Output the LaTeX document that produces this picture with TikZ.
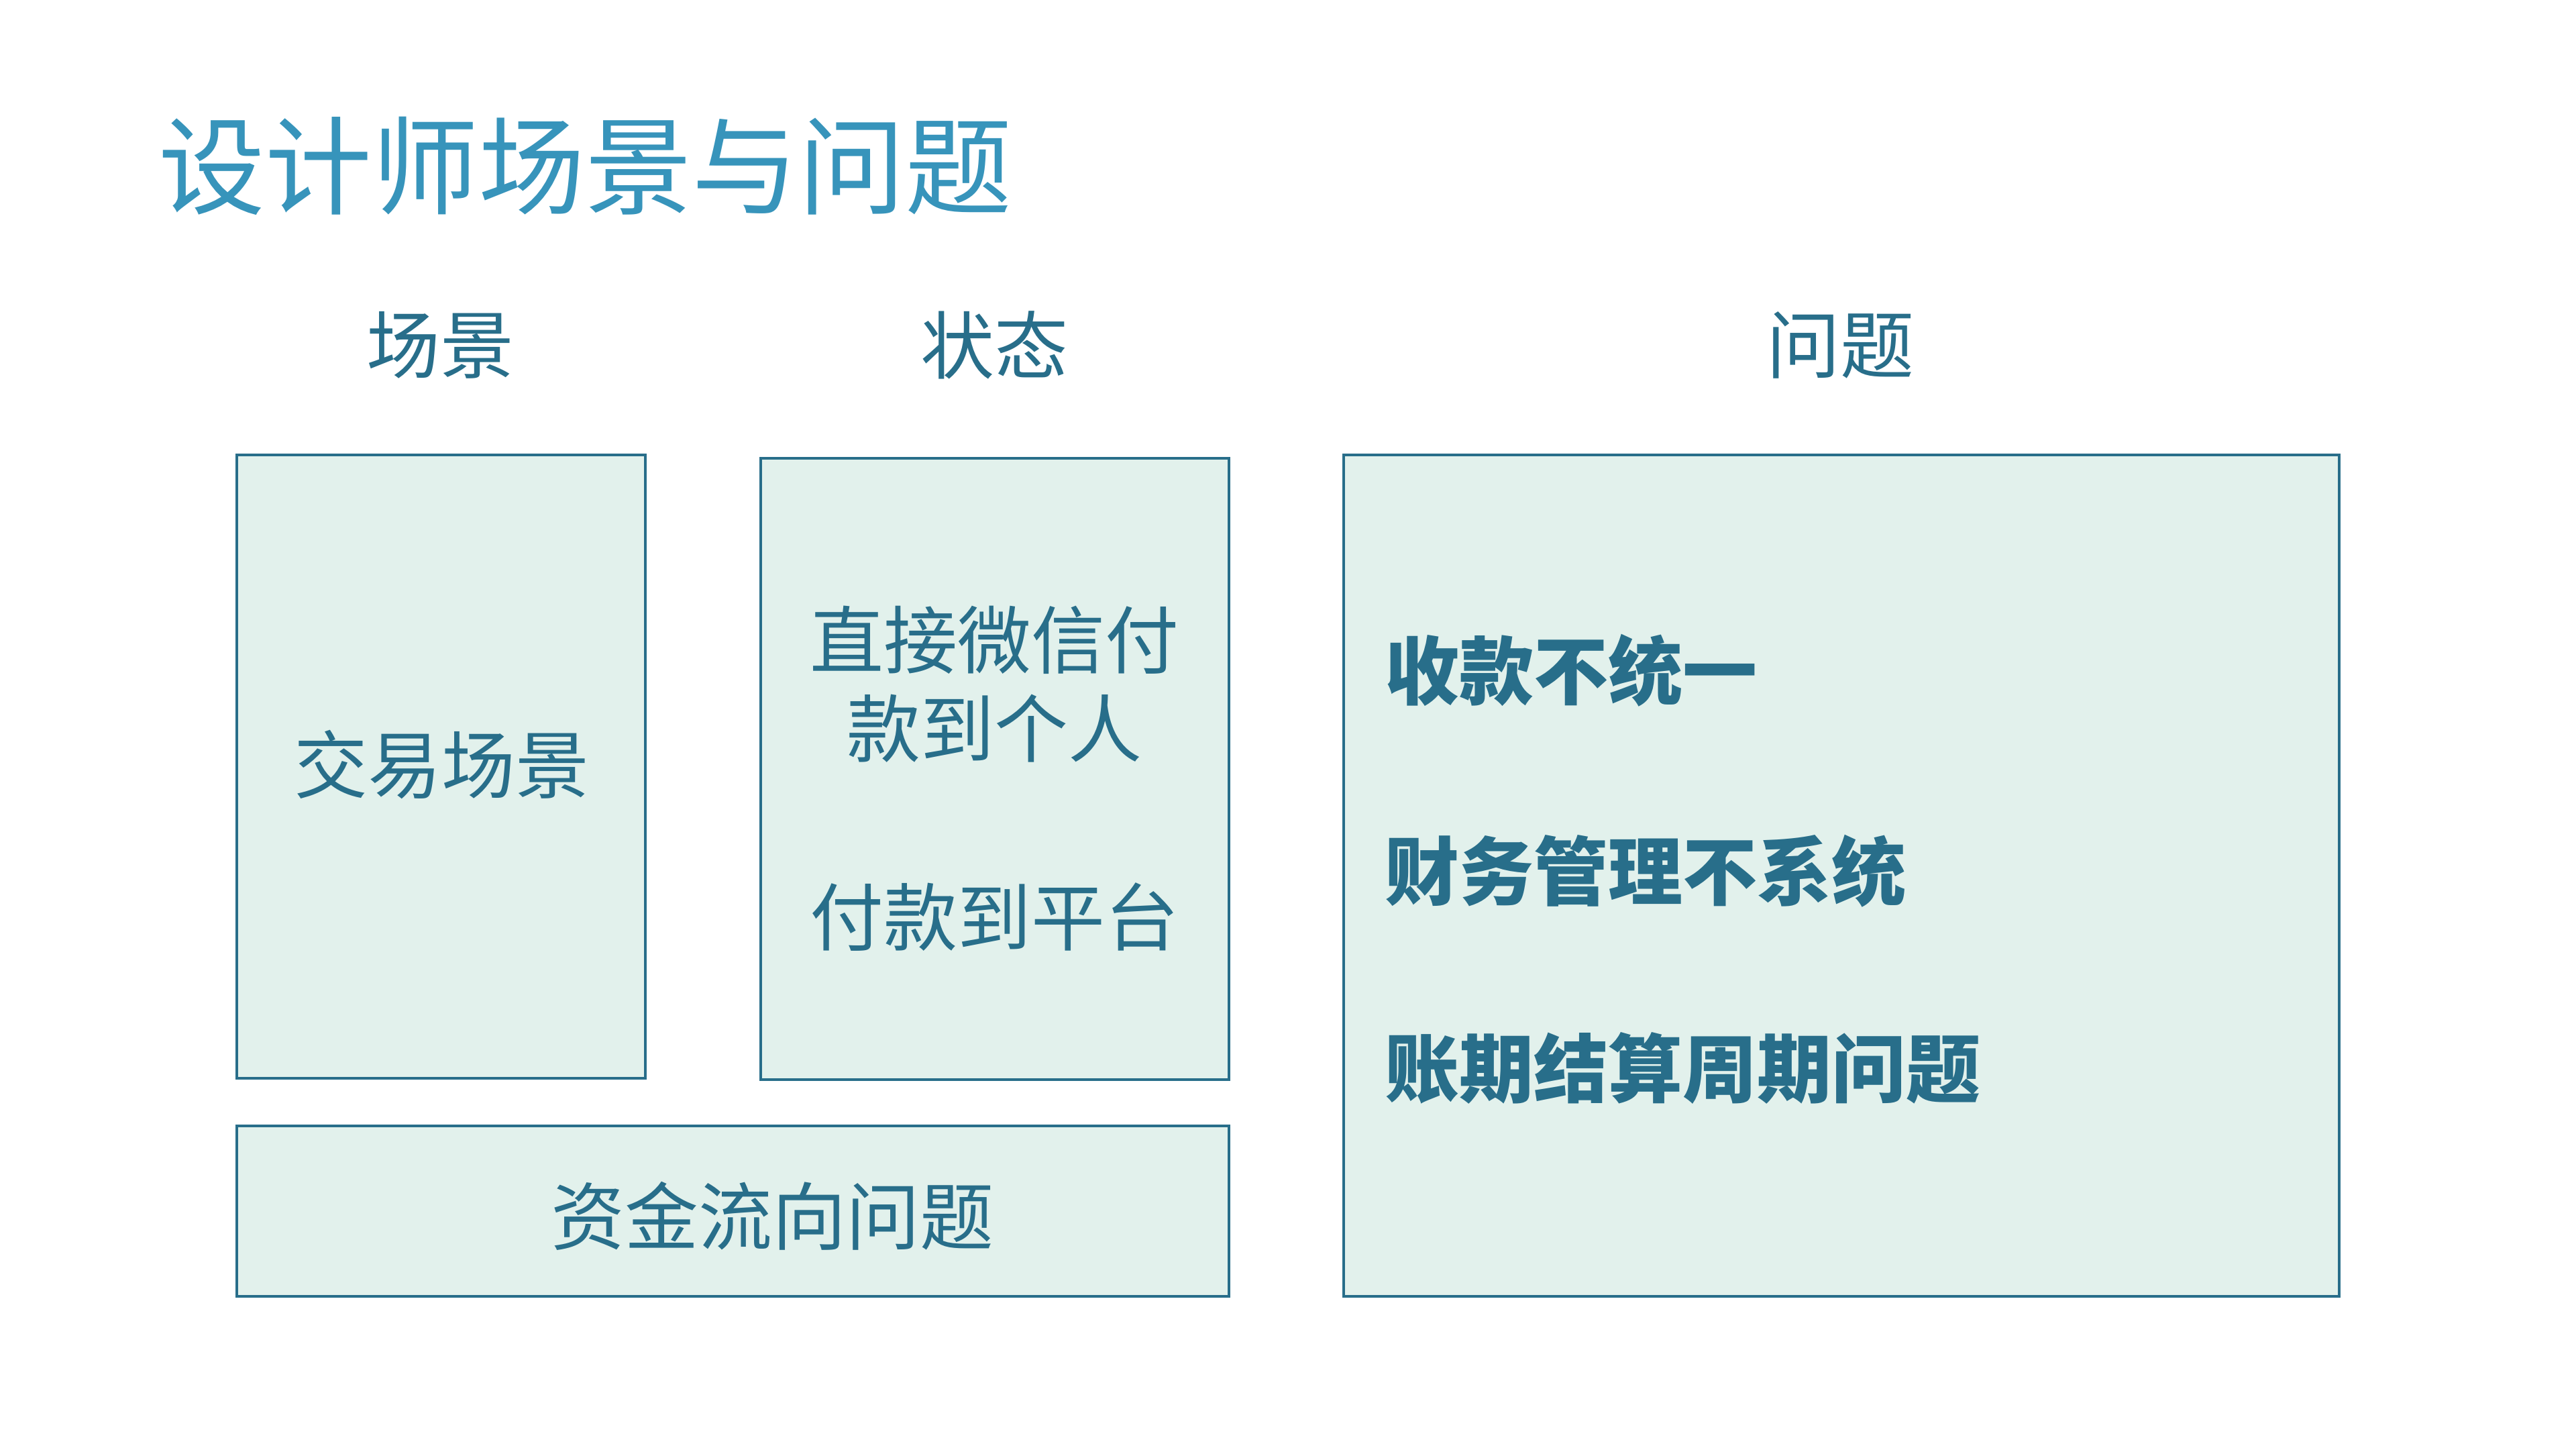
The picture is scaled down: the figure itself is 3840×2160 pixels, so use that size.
\documentclass[tikz,border=0pt]{standalone}
\usepackage{fontspec}
\setmainfont{Noto Sans CJK SC}
\definecolor{titleblue}{HTML}{3794BB}
\definecolor{darkteal}{HTML}{286E8A}
\definecolor{boxfill}{HTML}{E2F1EC}
\tikzset{
  panel/.style={draw=darkteal, fill=boxfill, line width=4.5pt, inner sep=0pt, outer sep=0pt},
  header/.style={text=darkteal, font=\fontsize{110}{132}\selectfont, inner sep=0pt},
  body/.style={text=darkteal, font=\fontsize{110}{132}\selectfont, inner sep=0pt},
  boldbody/.style={text=darkteal, font=\fontsize{111}{132}\selectfont\bfseries, inner sep=0pt, anchor=west},
}
\begin{document}
\begin{tikzpicture}[x=1pt,y=-1pt]
\useasboundingbox (0,0) rectangle (3840,2160);
\fill[white] (0,0) rectangle (3840,2160);
% title
\node[anchor=west, text=titleblue, font=\fontsize{159}{190}\selectfont, inner sep=0pt] (title) at (236,247) {设计师场景与问题};
% headers
\node[header] (h1) at (656,514) {场景};
\node[header] (h2) at (1482,514) {状态};
\node[header] (h3) at (2743,514) {问题};
% panels
\draw[panel] (353,678) rectangle (962,1607);
\draw[panel] (1134,683) rectangle (1832,1609);
\draw[panel] (353,1678) rectangle (1832,1932);
\draw[panel] (2003,678) rectangle (3487,1932);
% panel texts
\node[body] (scene) at (658,1139) {交易场景};
\node[body, align=center] (state1) at (1482,1020) {直接微信付\\款到个人};
\node[body] (state2) at (1482,1367) {付款到平台};
\node[body] (flow) at (1151,1812) {资金流向问题};
\node[boldbody] (p1) at (2064,999) {收款不统一};
\node[boldbody] (p2) at (2064,1298) {财务管理不系统};
\node[boldbody] (p3) at (2064,1592) {账期结算周期问题};
\end{tikzpicture}
\end{document}
